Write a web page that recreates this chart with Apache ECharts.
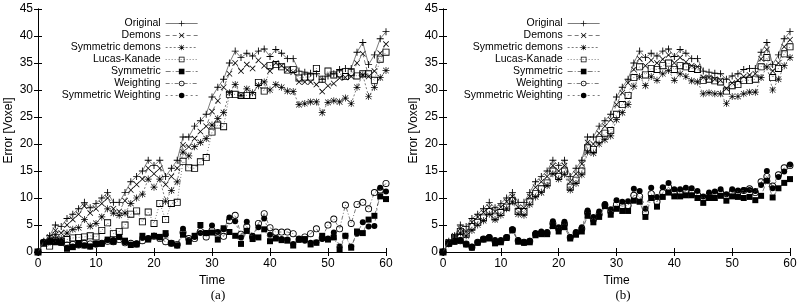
<!DOCTYPE html>
<html>
<head>
<meta charset="utf-8">
<script src="https://cdn.jsdelivr.net/npm/echarts@6/dist/echarts.min.js"></script>
<style>
  html, body { margin: 0; padding: 0; background: #fff; }
  #chart { width: 800px; height: 303px; }
</style>
</head>
<body>
<div id="chart"></div>
<script>
// time steps shared by both panels
const timeSteps = [0,1,2,3,4,5,6,7,8,9,10,11,12,13,14,15,16,17,18,19,20,21,22,23,24,25,26,27,28,29,30,
  31,32,33,34,35,36,37,38,39,40,41,42,43,44,45,46,47,48,49,50,51,52,53,54,55,56,57,58,59,60];

const seriesNames = ['Original', 'Demons', 'Symmetric demons', 'Lucas-Kanade', 'Symmetric', 'Weighting', 'Symmetric Weighting'];

// "Original" is the same in both panels
const original = [0,2,3,5,4.7,6.2,7,8,9.2,8.2,9,10,11,9.2,9.2,11,13,14,15,17,16,17,14,15.5,17,21.3,21.3,23.3,24.3,25.5,28.7,
  30.5,32,35,37.2,36,36.8,36.3,37.2,37.6,36.2,37.5,36.8,35.8,35.8,33.5,33.3,33.1,33,32,32.6,33,33.8,34,34,37,38.8,34.7,36.5,39.5,40.8];

// panel (a)
const demonsA = [0,1.8,2.8,4,3.5,5,6,7,8.5,7.2,8,9,10,8,7.5,9.5,11.5,12.5,13.5,15.5,14.5,15.5,12.5,14,15.5,19.8,19.5,21,22.3,23.3,26,
  28,30.5,33,35,33.5,34.7,34,35.5,34.5,33.5,35,34.5,33.7,33.3,31.5,31.5,31.5,31,29.7,30.8,31.2,32.2,32.3,32.5,35,36.7,32.5,33.5,36.8,38.5];
const symDemonsA = [0,1.7,2.3,3.2,2.5,3.5,4.2,4.5,6,4.8,5.3,6.5,8,7.2,6.8,7.2,9,10,10.7,13.5,12,13.5,9.4,11.4,13,18.5,17.8,19.5,20.3,21,23.5,
  24.7,25.8,29.5,31,29,30.2,29.5,30.8,31.5,30,31,30.5,29.8,29.7,27.3,27.5,27.8,27.8,25.8,27.7,28,27.8,28.5,27.5,30.5,32.8,28.8,30.5,32.3,33.6];
const lucasKanadeA = [0,1.6,1.1,2,2,2.3,2.6,2.7,2.8,3,2.8,4,5.4,3.4,3.8,5,7,7.6,5.6,7.4,5.3,9,6,9,9.2,16.8,15.6,15.5,16.7,17.5,22.2,
  23.5,23.2,29.2,29.2,29,29,29,31.4,29.8,34.5,34.7,34.3,33.7,33.8,32.2,32.4,32.4,34,32,33.5,32.8,33,32.5,33.2,32.6,33,33,31.8,35.7,37];
const symmetricA = [0,1.7,1.9,1.8,1.7,0.6,0.9,1.6,1.2,1,1.5,1.5,2.3,1.9,2.8,2.1,1.3,1.4,3,2.3,3,2.8,3.5,1.6,1.2,3.2,1.9,3,5,3.5,3.6,
  2.3,4.4,3.7,3,1.5,3.9,2.4,2.7,4.2,2,2.5,2.2,2.1,1.2,2.3,2.4,1.4,1.7,3,2.3,2.7,0.4,3,0.8,3.8,3.5,6,6.7,10.3,9.8];
const weightingA = [0,1.8,1.9,2.2,1.8,1.3,1.4,1.3,1.6,1.5,1.5,1.6,2,1.9,2.3,1.7,1.6,1.5,2.1,2.5,2.9,2.5,1.9,1.6,1.4,3.6,2.5,2.5,3.8,2.8,4,
  3.5,2.9,5.8,6.8,3.3,4.7,2.8,5.3,7.1,4.5,3.7,3.7,3.7,3.4,2.3,2.8,3.4,4.3,2.6,5,6.1,4.3,8.7,5.3,8.8,9.2,8,11,11.5,12.7];
const symWeightingA = [0,1.7,2,2,1.8,0.8,1,1.3,1.2,1,1.4,1.6,2.2,2.2,2.8,1.8,1.4,1.6,2.6,2.5,3,2.7,3.2,1.6,1.2,4.3,2.2,2.8,3.5,3.5,4.9,
  3.7,4.2,6.4,5.7,2.7,5.6,3,4.6,6.2,3.2,2.6,2.4,2.3,1.5,2.5,2.1,1.7,1.8,2.4,2.5,3.6,1,3,1,3.4,5.5,4.7,4.8,11.9,11.2];

// panel (b)
const demonsB = [0,1.9,3,4.3,3.8,5.5,6.5,7.3,8.3,7.5,8.3,9.3,10.3,8.3,8.2,10.3,12,13,14,16,15,16,13,14.5,16.3,20.3,20,22,23.3,24.5,27.3,
  29.5,31.3,33.8,35.8,34.5,35.5,35,35.7,36.5,35,36,35.2,34.5,34.3,32.3,32.3,32,31.8,30.3,31.3,31.8,32.5,32.8,33,35.8,37.5,33.5,35,38,39.3];
const symDemonsB = [0,1.5,2.5,3.5,3,4,5,5.8,7,6,6.8,8,9.3,7,6.8,8.8,10.2,11,12.3,14.5,13.5,14.4,11.5,12.7,14.3,18.5,18.3,20,20.8,21.5,24.5,
  25.8,27.3,30.7,32.5,30.8,32.5,31.8,33,33.6,31.8,33,32.5,31.7,31.5,29.3,29.5,29.3,29.3,27.5,28.8,28.8,29.3,29.6,29.6,32.3,34.3,30,32,34.5,36];
const lucasKanadeB = [0,1.7,2.7,3.8,3.3,4.7,5.5,6.3,7.5,6.5,7.3,8.3,9.5,7.5,7.5,9.3,10.8,11.7,12.8,15,14,15,12,13.3,15,19.3,19,20.8,22,22.5,25.5,
  27.3,29,32.3,34.3,32.8,34,33.8,34.5,35,33.8,34.5,34.3,34,33.8,31.8,32,31.7,31.5,29.8,30.8,31,31.8,31.8,32,34.3,36,32.3,34,36.7,38];
const symmetricB = [0,1.5,1.9,2.1,1.4,0.8,1.7,2.3,2.5,1.6,1.8,2.6,4,1.9,1.7,1.8,3.1,3.3,3.3,4.8,3.8,4.6,2.5,3.2,3.8,6.7,5.5,6.5,8.5,6.9,8,
  7.6,7.6,9.5,9.3,6.5,10,8.4,10.2,11,10.3,10.3,10.5,10.5,10,9.1,10,10,10.4,9.5,10.3,10.2,10,10.2,9.6,10.4,13.2,10.1,11.8,12.8,13.5];
const weightingB = [0,1.6,2,2.1,1.5,0.9,1.8,2.4,2.7,2,2,2.7,4.1,2.1,1.8,2,3.3,3.5,3.5,5.3,4.3,5.2,2.7,3.5,4.3,7.3,6,7,8.7,7.5,8.8,
  8.5,8.6,10.5,10.3,7.3,10.8,9.3,11,12,10.8,11,11.2,11,10.6,10,10.5,10.7,11,10.3,11,11.2,11.4,11.7,11,13,14,12.2,14.3,15.6,16];
const symWeightingB = [0,1.7,2.1,2.2,1.5,1,1.8,2.4,2.8,2.2,2.2,2.8,4.2,2.2,1.8,2.1,3.5,3.8,3.7,5.7,4.6,5.6,2.8,3.7,4.6,7.7,6.5,7.5,8.9,7.9,9.6,
  9.3,9.4,11.7,11.3,8,11.9,10.2,12,12.8,11.6,11.6,11.9,11.8,11.3,10.3,11,11.2,11.6,10.7,11.6,11.4,11.5,11.5,11.3,12.4,15,11.8,13.9,14.9,16.2];

const xTicks = { min: 0, max: 60, interval: 10 };
const yTicks = { min: 0, max: 45, interval: 5 };
const panelLabels = ['(a)', '(b)'];

const FONT = 'Liberation Sans, Arial, sans-serif';
// gnuplot-like point types, drawn as thin filled outlines
const PLUS = 'path://M0 3.5L8 3.5L8 4.5L0 4.5Z M3.5 0L4.5 0L4.5 8L3.5 8Z';
const CROSS = 'path://M0 0.7L0.7 0L8 7.3L7.3 8Z M7.3 0L8 0.7L0.7 8L0 7.3Z';
const STAR = 'path://M0 3.6L8 3.6L8 4.4L0 4.4Z M3.6 0L4.4 0L4.4 8L3.6 8Z M0.5 1L1 0.5L7.5 7L7 7.5Z M7 0.5L7.5 1L1 7.5L0.5 7Z';
const OPEN_SQUARE = 'path://M0 0L8 0L8 8L0 8Z M1 1L1 7L7 7L7 1Z';
const OPEN_CIRCLE = 'path://M4 0A4 4 0 1 1 4 8A4 4 0 1 1 4 0Z M4 1A3 3 0 1 0 4 7A3 3 0 1 0 4 1Z';

const styles = [
  { symbol: PLUS, size: 7, dash: 'solid' },
  { symbol: CROSS, size: 6, dash: [4, 3] },
  { symbol: STAR, size: 7, dash: [2, 2] },
  { symbol: OPEN_SQUARE, size: 7, dash: [1, 2] },
  { symbol: 'rect', size: 6, dash: [5, 2, 1, 2] },
  { symbol: OPEN_CIRCLE, size: 7, dash: [4, 2, 1, 2] },
  { symbol: 'circle', size: 6, dash: [2, 3] }
];

const panels = [
  [original, demonsA, symDemonsA, lucasKanadeA, symmetricA, weightingA, symWeightingA],
  [original, demonsB, symDemonsB, lucasKanadeB, symmetricB, weightingB, symWeightingB]
];

const grids = [
  { left: 38, right: 414, top: 9, bottom: 51 },
  { left: 443, right: 10, top: 9, bottom: 51 }
];

const xAxes = [];
const yAxes = [];
const series = [];
grids.forEach((g, gi) => {
  ['bottom', 'top'].forEach(pos => {
    xAxes.push({
      gridIndex: gi, type: 'value', position: pos, ...xTicks,
      axisLine: { show: true, lineStyle: { color: '#000', width: 1 } },
      axisTick: { show: true, inside: true, length: 4, lineStyle: { color: '#000' } },
      axisLabel: { show: pos === 'bottom', color: '#000', fontSize: 12, fontFamily: FONT, margin: 6 },
      splitLine: { show: false },
      name: pos === 'bottom' ? 'Time' : '',
      nameLocation: 'middle', nameGap: 19,
      nameTextStyle: { color: '#000', fontSize: 12, fontFamily: FONT }
    });
  });
  ['left', 'right'].forEach(pos => {
    yAxes.push({
      gridIndex: gi, type: 'value', position: pos, ...yTicks,
      axisLine: { show: true, lineStyle: { color: '#000', width: 1 } },
      axisTick: { show: true, inside: true, length: 4, lineStyle: { color: '#000' } },
      axisLabel: { show: pos === 'left', color: '#000', fontSize: 12, fontFamily: FONT, margin: 5 },
      splitLine: { show: false },
      name: pos === 'left' ? 'Error [Voxel]' : '',
      nameLocation: 'middle', nameGap: 23,
      nameTextStyle: { color: '#000', fontSize: 12, fontFamily: FONT }
    });
  });
  panels[gi].forEach((vals, si) => {
    const st = styles[si];
    series.push({
      name: seriesNames[si],
      type: 'line',
      xAxisIndex: gi * 2,
      yAxisIndex: gi * 2,
      data: vals.map((v, i) => [timeSteps[i], v]),
      symbol: st.symbol,
      symbolSize: st.size,
      showAllSymbol: true,
      z: 10 - si,
      lineStyle: { color: '#444', width: 0.7, type: st.dash },
      itemStyle: { color: '#000', borderWidth: 0 }
    });
  });
});

const legends = [203, 605].map(rightEdge => ({
  data: seriesNames,
  orient: 'vertical',
  align: 'right',
  right: 800 - rightEdge,
  top: 13,
  itemWidth: 32,
  itemHeight: 7,
  itemGap: 1,
  selectedMode: false,
  lineStyle: { width: 0.7, color: '#444' },
  textStyle: { color: '#000', fontSize: 10.5, fontFamily: FONT, lineHeight: 10 }
}));

const chart = echarts.init(document.getElementById('chart'));
chart.setOption({
  animation: false,
  backgroundColor: '#fff',
  title: panelLabels.map((t, i) => ({
    text: t,
    left: i === 0 ? 213 : 618,
    top: 284,
    textAlign: 'center',
    textStyle: { color: '#000', fontSize: 13, fontWeight: 'normal', fontFamily: 'Liberation Serif, Times New Roman, serif' }
  })),
  legend: legends,
  grid: grids.map(g => ({ ...g, show: false })),
  xAxis: xAxes,
  yAxis: yAxes,
  series: series
});
</script>
</body>
</html>
